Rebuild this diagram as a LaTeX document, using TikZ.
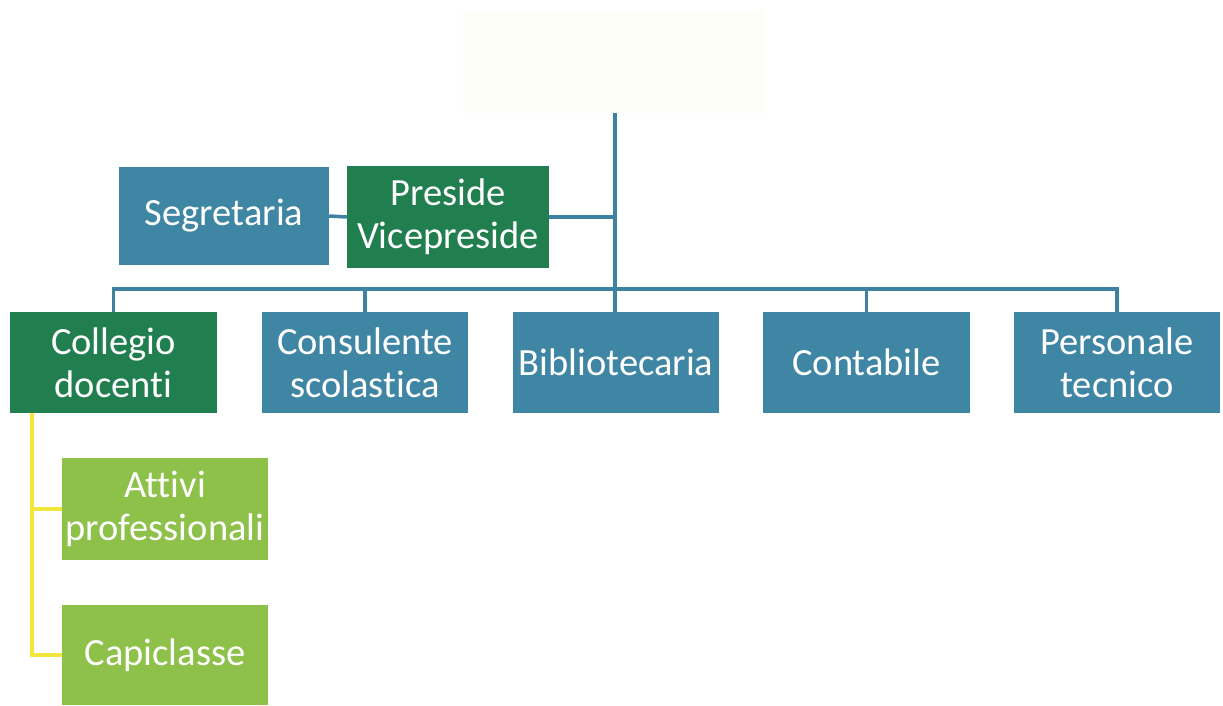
\documentclass[tikz,border=0pt]{standalone}
\usepackage{fontspec}
\setmainfont[Ligatures={NoCommon}]{Carlito}
\definecolor{tealbox}{HTML}{3E86A4}
\definecolor{greenbox}{HTML}{217E4E}
\definecolor{lightgreen}{HTML}{8DC14A}
\definecolor{linkblue}{HTML}{3D82A3}
\definecolor{linkyellow}{HTML}{F2E63A}
\definecolor{palebox}{HTML}{FEFEF9}
\tikzset{
  orgbox/.style={rectangle, inner sep=0pt, align=center, text=white,
    font=\fontsize{38.5}{43}\selectfont, minimum width=206pt, minimum height=101pt},
  bluebox/.style={orgbox, fill=tealbox},
  greenorg/.style={orgbox, fill=greenbox},
  lightorg/.style={orgbox, fill=lightgreen},
  link/.style={draw=linkblue, line width=3.5pt},
  ylink/.style={draw=linkyellow, line width=3.5pt}
}
\begin{document}
\begin{tikzpicture}[x=1pt,y=-1pt]
\useasboundingbox (0,0) rectangle (1223,705);
\node[rectangle, fill=palebox, minimum width=302pt, minimum height=103pt] (top) at (614,61.5) {};
\node[bluebox, minimum width=210pt, minimum height=98pt] (seg) at (224,216) {Segretaria};
\node[greenorg, minimum width=202pt, minimum height=102pt] (pres) at (448,217) {Preside\\Vicepreside};
\node[greenorg, minimum width=207pt] (coll) at (113.5,362.5) {Collegio\\docenti};
\node[bluebox] (cons) at (365,362.5) {Consulente\\scolastica};
\node[bluebox] (bib) at (616,362.5) {Bibliotecaria};
\node[bluebox, minimum width=207pt] (cont) at (866.5,362.5) {Contabile};
\node[bluebox] (pers) at (1117,362.5) {Personale\\tecnico};
\node[lightorg, minimum height=102pt] (att) at (165,509) {Attivi\\professionali};
\node[lightorg, minimum height=100pt] (capi) at (165,655) {Capiclasse};
\coordinate (bus) at (615,289);
\coordinate (yx) at (32,0);
\draw[link] (top.south -| bus) -- (bus);
\draw[link] (seg.east) -- (pres.west);
\draw[link] (pres.east) -- (pres.east -| bus);
\draw[link] (coll.north) |- (bus);
\draw[link] (pers.north) |- (bus);
\draw[link] (cons.north) -- (cons.north |- bus);
\draw[link] (bib.north -| bus) -- (bus);
\draw[link] (cont.north) -- (cont.north |- bus);
\draw[ylink] (yx |- coll.south) |- (capi.west);
\draw[ylink] (yx |- att.west) -- (att.west);
\end{tikzpicture}
\end{document}
